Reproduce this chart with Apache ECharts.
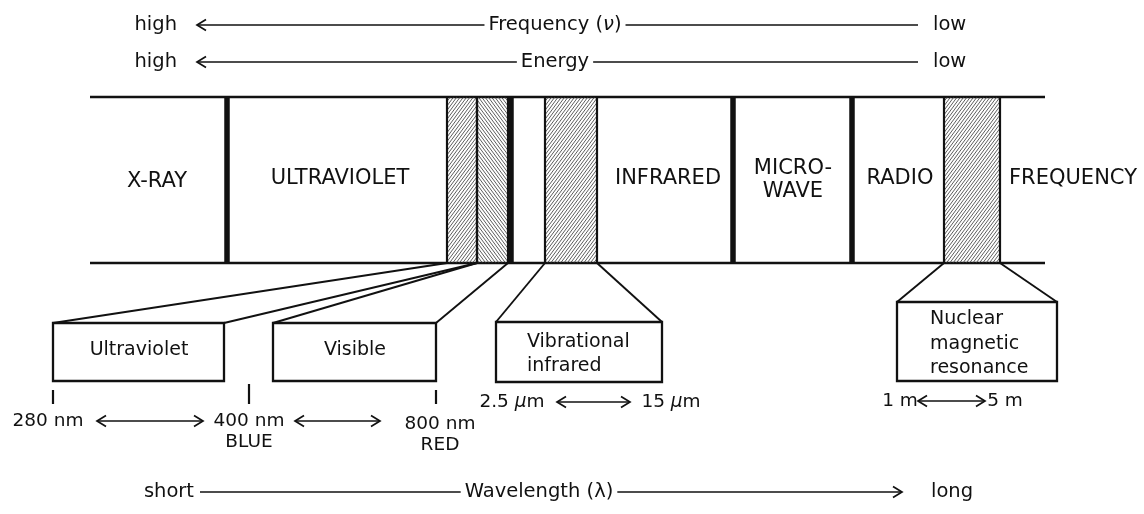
<!DOCTYPE html>
<html lang="en">
<head>
<meta charset="UTF-8">
<title>Electromagnetic spectrum</title>
<script src="https://cdn.jsdelivr.net/npm/echarts@6/dist/echarts.min.js"></script>
<style>
  html, body { margin: 0; padding: 0; background: #fff; }
  #chart { width: 1144px; height: 514px; }
</style>
</head>
<body>
<div id="chart"></div>
<script>
// diagram units: the axes run 0..1144 across and 0..514 down
// spectrum strip
const stripX = [90, 1045];
const stripY = [97, 263];
// thick boundaries between regions
const dividers = [227, 511, 733, 852];
// hatched slices of the strip
const hatchLeft = [447, 477, 545, 944];
const hatchRight = [477, 508, 597, 1000];
const hatchSlant = [1, -1, 1, 1];
// region names inside the strip
const regionNames = ['X-RAY', 'ULTRAVIOLET', 'INFRARED', 'MICRO-\nWAVE', 'RADIO', 'FREQUENCY'];
const regionX = [157, 340, 668, 793, 900, 1073];
const regionY = [182, 179, 179, 180, 179, 179];

// expanded windows under the strip
const boxNames = ['Ultraviolet', 'Visible', 'Vibrational\ninfrared', 'Nuclear\nmagnetic\nresonance'];
const boxLeft = [53, 273, 496, 897];
const boxRight = [224, 436, 662, 1057];
const boxTop = [323, 323, 322, 302];
const boxBottom = [381, 381, 382, 381];
const boxFrom = [447, 477, 545, 944];
const boxTo = [477, 508, 597, 1000];
const boxTextX = [139, 355, 527, 930];
const boxTextY = [350, 350, 354, 344];

// wavelength marks
const tickX = [53, 249, 436];
const tickTop = [390, 384, 390];
const tickBottom = [404, 404, 404];
const scaleTexts = ['280 nm', '400 nm', '800 nm', 'BLUE', 'RED', '2.5 {i|μ}m', '15 {i|μ}m', '1 m', '5 m'];
const scaleX = [48, 249, 440, 249, 440, 512, 671, 900, 1005];
const scaleY = [421, 421, 424, 442, 445, 402, 402, 401, 401];
const spanFrom = [97, 295, 557, 918];
const spanTo = [203, 380, 630, 985];
const spanY = [421, 421, 402, 401];

// direction arrows
const axisNames = ['Frequency ({i|ν})', 'Energy', 'Wavelength (λ)'];
const axisY = [25, 62, 492];
const axisFrom = [197, 197, 200];
const axisTo = [918, 918, 902];
const axisMid = [555, 555, 539];
const axisHead = [-1, -1, 1];
const axisLowEnd = ['high', 'high', 'short'];
const axisHighEnd = ['low', 'low', 'long'];
const axisLowX = [177, 177, 194];
const axisHighX = [933, 933, 931];

const INK = '#111';
const FONT = 'DejaVu Sans';

function line(api, a, b, w) {
  const p = api.coord(a), q = api.coord(b);
  return { type: 'line', shape: { x1: p[0], y1: p[1], x2: q[0], y2: q[1] },
           style: { stroke: INK, lineWidth: w, fill: 'none' } };
}

function text(api, x, y, str, size, align, extra) {
  const p = api.coord([x, y]);
  return {
    type: 'text', x: p[0], y: p[1],
    style: Object.assign({
      text: str, fill: INK, fontSize: size, fontFamily: FONT,
      align: align, verticalAlign: 'middle',
      rich: { i: { fontStyle: 'italic', fontSize: size, fontFamily: FONT, fill: INK } }
    }, extra || {})
  };
}

function chevron(api, x, y, dir) {
  const p = api.coord([x, y]);
  const len = 9, half = 5.5;
  return { type: 'polyline',
           shape: { points: [[p[0] - dir * len, p[1] - half], [p[0], p[1]], [p[0] - dir * len, p[1] + half]] },
           style: { stroke: INK, lineWidth: 1.7, fill: 'none' } };
}

function hatchPath(x0, y0, x1, y1, slant) {
  const k = 1.35, step = 3.3 * k;
  let d = '';
  if (slant > 0) {
    for (let c = y0 + k * x0; c <= y1 + k * x1; c += step) {
      const xa = Math.max(x0, (c - y1) / k), xb = Math.min(x1, (c - y0) / k);
      if (xb > xa) d += 'M' + xa + ' ' + (c - k * xa) + 'L' + xb + ' ' + (c - k * xb);
    }
  } else {
    for (let c = y0 - k * x1; c <= y1 - k * x0; c += step) {
      const xa = Math.max(x0, (y0 - c) / k), xb = Math.min(x1, (y1 - c) / k);
      if (xb > xa) d += 'M' + xa + ' ' + (c + k * xa) + 'L' + xb + ' ' + (c + k * xb);
    }
  }
  return d;
}

const chart = echarts.init(document.getElementById('chart'));
chart.setOption({
  animation: false,
  grid: { left: 0, right: 0, top: 0, bottom: 0 },
  xAxis: { type: 'value', min: 0, max: 1144, show: false },
  yAxis: { type: 'value', min: 0, max: 514, inverse: true, show: false },
  series: [
    // strip top and bottom
    {
      type: 'custom',
      data: stripY.map(y => [stripX[0], y, stripX[1]]),
      renderItem: (params, api) =>
        line(api, [api.value(0), api.value(1)], [api.value(2), api.value(1)], 2.6)
    },
    // hatched slices
    {
      type: 'custom',
      data: hatchLeft.map((l, i) => [l, hatchRight[i], hatchSlant[i]]),
      renderItem: (params, api) => {
        const a = api.coord([api.value(0), stripY[0]]);
        const b = api.coord([api.value(1), stripY[1]]);
        return {
          type: 'group',
          children: [
            { type: 'path', shape: { pathData: hatchPath(a[0], a[1], b[0], b[1], api.value(2)) },
              style: { stroke: '#333', lineWidth: 0.8, fill: 'none' } },
            line(api, [api.value(0), stripY[0]], [api.value(0), stripY[1]], 2.2),
            line(api, [api.value(1), stripY[0]], [api.value(1), stripY[1]], 2.2)
          ]
        };
      }
    },
    // region boundaries
    {
      type: 'custom',
      data: dividers.map(x => [x]),
      renderItem: (params, api) =>
        line(api, [api.value(0), stripY[0]], [api.value(0), stripY[1]], 5.5)
    },
    // region names
    {
      type: 'custom',
      data: regionNames.map((n, i) => [regionX[i], regionY[i]]),
      renderItem: (params, api) =>
        text(api, api.value(0), api.value(1), regionNames[params.dataIndex], 21, 'center', { lineHeight: 23 })
    },
    // expanded windows with their connectors
    {
      type: 'custom',
      data: boxNames.map((n, i) => [boxLeft[i], boxRight[i], boxTop[i], boxBottom[i], boxFrom[i], boxTo[i], boxTextX[i], boxTextY[i]]),
      renderItem: (params, api) => {
        const l = api.value(0), r = api.value(1), t = api.value(2), b = api.value(3);
        const p = api.coord([l, t]), q = api.coord([r, b]);
        const i = params.dataIndex;
        return {
          type: 'group',
          children: [
            line(api, [l, t], [api.value(4), stripY[1]], 1.9),
            line(api, [r, t], [api.value(5), stripY[1]], 1.9),
            { type: 'rect', shape: { x: p[0], y: p[1], width: q[0] - p[0], height: q[1] - p[1] },
              style: { stroke: INK, lineWidth: 2.3, fill: '#fff' } },
            text(api, api.value(6), api.value(7), boxNames[i], 19, i < 2 ? 'center' : 'left', { lineHeight: 24.5 })
          ]
        };
      }
    },
    // ticks under the windows
    {
      type: 'custom',
      data: tickX.map((x, i) => [x, tickTop[i], tickBottom[i]]),
      renderItem: (params, api) =>
        line(api, [api.value(0), api.value(1)], [api.value(0), api.value(2)], 2.2)
    },
    // two-headed span arrows
    {
      type: 'custom',
      data: spanFrom.map((x, i) => [x, spanTo[i], spanY[i]]),
      renderItem: (params, api) => {
        const x0 = api.value(0), x1 = api.value(1), y = api.value(2);
        return { type: 'group', children: [
          line(api, [x0, y], [x1, y], 1.3),
          chevron(api, x0, y, -1),
          chevron(api, x1, y, 1)
        ] };
      }
    },
    // wavelength labels
    {
      type: 'custom',
      data: scaleTexts.map((t, i) => [scaleX[i], scaleY[i]]),
      renderItem: (params, api) =>
        text(api, api.value(0), api.value(1), scaleTexts[params.dataIndex], 18.5, 'center')
    },
    // frequency / energy / wavelength arrows
    {
      type: 'custom',
      data: axisNames.map((n, i) => [axisFrom[i], axisTo[i], axisY[i], axisMid[i], axisHead[i], axisLowX[i], axisHighX[i]]),
      renderItem: (params, api) => {
        const i = params.dataIndex;
        const x0 = api.value(0), x1 = api.value(1), y = api.value(2), dir = api.value(4);
        return { type: 'group', children: [
          line(api, [x0, y], [x1, y], 1.4),
          chevron(api, dir < 0 ? x0 : x1, y, dir),
          text(api, api.value(3), y, axisNames[i], 19.5, 'center', { backgroundColor: '#fff', padding: [0, 4] }),
          text(api, api.value(5), y, axisLowEnd[i], 19.5, 'right'),
          text(api, api.value(6), y, axisHighEnd[i], 19.5, 'left')
        ] };
      }
    }
  ]
});
</script>
</body>
</html>
